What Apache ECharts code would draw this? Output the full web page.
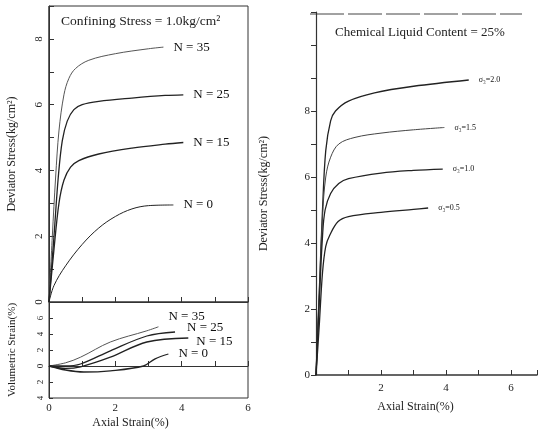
<!DOCTYPE html>
<html>
<head>
<meta charset="utf-8">
<script src="https://cdn.jsdelivr.net/npm/echarts@6/dist/echarts.min.js"></script>
<style>
  html, body { margin: 0; padding: 0; background: #fff; }
  #chart { width: 541px; height: 431px; }
</style>
</head>
<body>
<div id="chart"></div>
<script>
// deviator stress vs axial strain, confining stress 1.0
var stressN35 = [[0,0],[0.1,2],[0.2,3.8],[0.3,5.2],[0.45,6.3],[0.6,6.8],[0.8,7.1],[1.2,7.35],[2,7.55],[3,7.7],[3.45,7.75]];
var stressN25 = [[0,0],[0.15,2],[0.28,3.8],[0.4,4.9],[0.55,5.5],[0.75,5.85],[1,6.0],[1.5,6.1],[2.5,6.2],[3.5,6.28],[4.05,6.3]];
var stressN15 = [[0,0],[0.15,1.6],[0.3,3.0],[0.45,3.7],[0.65,4.1],[0.9,4.3],[1.5,4.5],[2.5,4.68],[3.5,4.8],[4.05,4.85]];
var stressN0  = [[0,0],[0.15,0.5],[0.5,1.1],[1,1.75],[1.5,2.25],[2,2.6],[2.5,2.83],[3,2.93],[3.75,2.95]];

// volumetric strain vs axial strain
var volN35 = [[0,0],[0.5,0.4],[0.95,1.1],[1.85,3.0],[2.95,4.4],[3.3,4.9]];
var volN25 = [[0,0],[0.5,0.0],[0.95,0.25],[1.85,1.9],[2.95,3.75],[3.8,4.25]];
var volN15 = [[0,0],[0.5,-0.3],[0.95,-0.1],[1.85,1.1],[2.95,3.0],[4.2,3.5]];
var volN0  = [[0,0],[0.5,-0.5],[1.05,-0.75],[1.85,-0.6],[2.85,0],[3.2,0.9],[3.6,1.5]];

// deviator stress, chemical liquid content 25%
var sig20 = [[0,0],[0.1,2.5],[0.2,5],[0.3,6.8],[0.45,7.7],[0.6,8.0],[1,8.3],[1.8,8.55],[3,8.75],[4.7,8.94]];
var sig15 = [[0,0],[0.1,2.5],[0.2,4.8],[0.3,6.0],[0.45,6.6],[0.7,7.0],[1.2,7.2],[2,7.33],[3,7.43],[3.95,7.5]];
var sig10 = [[0,0],[0.1,2.2],[0.2,4.2],[0.28,5.0],[0.45,5.5],[0.7,5.8],[1,5.95],[2,6.12],[3,6.2],[3.9,6.24]];
var sig05 = [[0,0],[0.1,1.5],[0.2,3.1],[0.3,3.9],[0.43,4.25],[0.68,4.65],[1,4.8],[2,4.93],[3,5.02],[3.45,5.06]];

var font = 'Liberation Serif';
var ink = '#222';

var chart = echarts.init(document.getElementById('chart'));

function line(name, data, xi, yi, opts) {
  opts = opts || {};
  return {
    name: name,
    type: 'line',
    xAxisIndex: xi,
    yAxisIndex: yi,
    data: data,
    smooth: 0.35,
    symbol: 'none',
    lineStyle: { color: opts.color || ink, width: opts.width || 1.3 },
    endLabel: {
      show: true,
      formatter: name,
      color: '#111',
      fontFamily: font,
      fontSize: opts.fontSize || 13,
      offset: opts.offset || [2, 0]
    },
    emphasis: { disabled: true },
    silent: true
  };
}

var option = {
  animation: false,
  backgroundColor: '#fff',
  textStyle: { fontFamily: font, color: ink },
  title: [
    { text: 'Confining Stress = 1.0kg/cm²', left: 56, top: 9,
      textStyle: { fontFamily: font, fontWeight: 'normal', fontSize: 13.5, color: '#222' } },
    { text: 'Chemical Liquid Content = 25%', left: 330, top: 21,
      textStyle: { fontFamily: font, fontWeight: 'normal', fontSize: 13, color: '#222' } }
  ],
  grid: [
    { left: 49, top: 6, width: 199, height: 296, show: true, borderColor: '#333', borderWidth: 1 },
    { left: 49, top: 302, width: 199, height: 96, show: true, borderColor: '#333', borderWidth: 1 },
    { left: 316, top: 12, width: 221, height: 363 }
  ],
  xAxis: [
    { gridIndex: 0, type: 'value', min: 0, max: 6, interval: 1,
      axisLine: { lineStyle: { color: '#333' } },
      axisTick: { inside: true, length: 5, lineStyle: { color: '#333' } },
      axisLabel: { show: false }, splitLine: { show: false } },
    { gridIndex: 1, type: 'value', min: 0, max: 6, interval: 1,
      name: 'Axial Strain(%)', nameLocation: 'middle', nameGap: 19,
      nameTextStyle: { fontFamily: font, fontSize: 12, color: '#222', padding: [0, 36, 0, 0] },
      axisLine: { lineStyle: { color: '#333' } },
      axisTick: { inside: true, length: 5, lineStyle: { color: '#333' } },
      axisLabel: { fontFamily: font, fontSize: 11, color: '#222', margin: 5,
        formatter: function (v) { return v % 2 === 0 ? String(v) : ''; } },
      splitLine: { show: false } },
    { gridIndex: 2, type: 'value', min: 0, max: 6.8, interval: 1,
      name: 'Axial Strain(%)', nameLocation: 'middle', nameGap: 26,
      nameTextStyle: { fontFamily: font, fontSize: 12, color: '#222', padding: [0, 22, 0, 0] },
      axisLine: { lineStyle: { color: '#333', width: 1.5 } },
      axisTick: { inside: true, length: 5, lineStyle: { color: '#333' } },
      axisLabel: { fontFamily: font, fontSize: 11, color: '#222', margin: 8,
        formatter: function (v) { return (v > 0 && v % 2 === 0) ? String(v) : ''; } },
      splitLine: { show: false } }
  ],
  yAxis: [
    { gridIndex: 0, type: 'value', min: 0, max: 9, interval: 1,
      name: 'Deviator Stress(kg/cm²)', nameLocation: 'middle', nameGap: 31, nameRotate: 90,
      nameTextStyle: { fontFamily: font, fontSize: 12, color: '#222' },
      axisLine: { lineStyle: { color: '#333' } },
      axisTick: { inside: true, length: 5, lineStyle: { color: '#333' } },
      axisLabel: { fontFamily: font, fontSize: 11, color: '#222', margin: 4, rotate: 90,
        formatter: function (v) { return (v % 2 === 0 && v < 9) ? String(v) : ''; } },
      splitLine: { show: false } },
    { gridIndex: 1, type: 'value', min: -4, max: 8, interval: 2,
      name: 'Volumetric Strain(%)', nameLocation: 'middle', nameGap: 31, nameRotate: 90,
      nameTextStyle: { fontFamily: font, fontSize: 11, color: '#222' },
      axisLine: { lineStyle: { color: '#333' } },
      axisTick: { inside: true, length: 4, lineStyle: { color: '#333' } },
      axisLabel: { fontFamily: font, fontSize: 9, color: '#222', margin: 4, rotate: 90,
        formatter: function (v) { return v >= 8 ? '' : String(Math.abs(v)); } },
      splitLine: { show: false } },
    { gridIndex: 2, type: 'value', min: 0, max: 11, interval: 1,
      name: 'Deviator Stress(kg/cm²)', nameLocation: 'middle', nameGap: 46, nameRotate: 90,
      nameTextStyle: { fontFamily: font, fontSize: 12, color: '#222' },
      axisLine: { lineStyle: { color: '#333', width: 1.2 } },
      axisTick: { length: 5, lineStyle: { color: '#333' } },
      axisLabel: { fontFamily: font, fontSize: 11, color: '#222', margin: 6,
        formatter: function (v) { return (v % 2 === 0 && v <= 8) ? String(v) : ''; } },
      splitLine: { show: false } }
  ],
  graphic: [
    { type: 'line', shape: { x1: 310, y1: 14, x2: 522, y2: 14 },
      style: { stroke: '#444', lineWidth: 1, lineDash: [34, 4] } },
    { type: 'line', shape: { x1: 49, y1: 6, x2: 49, y2: 302 },
      style: { stroke: '#333', lineWidth: 1 } }
  ],
  series: [
    line('N = 35', stressN35, 0, 0, { color: '#555', width: 1 }),
    line('N = 25', stressN25, 0, 0),
    line('N = 15', stressN15, 0, 0),
    line('N = 0', stressN0, 0, 0, { width: 1 }),
    line('N = 35', volN35, 1, 1, { color: '#555', width: 1, offset: [2, -10] }),
    line('N = 25', volN25, 1, 1, { offset: [4, -4] }),
    line('N = 15', volN15, 1, 1, { offset: [0, 4] }),
    line('N = 0', volN0, 1, 1, { offset: [2, 0] }),
    line('σ₃=2.0', sig20, 2, 2, { fontSize: 8 }),
    line('σ₃=1.5', sig15, 2, 2, { fontSize: 8, color: '#444', width: 1 }),
    line('σ₃=1.0', sig10, 2, 2, { fontSize: 8 }),
    line('σ₃=0.5', sig05, 2, 2, { fontSize: 8 })
  ]
};

chart.setOption(option);
</script>
</body>
</html>
